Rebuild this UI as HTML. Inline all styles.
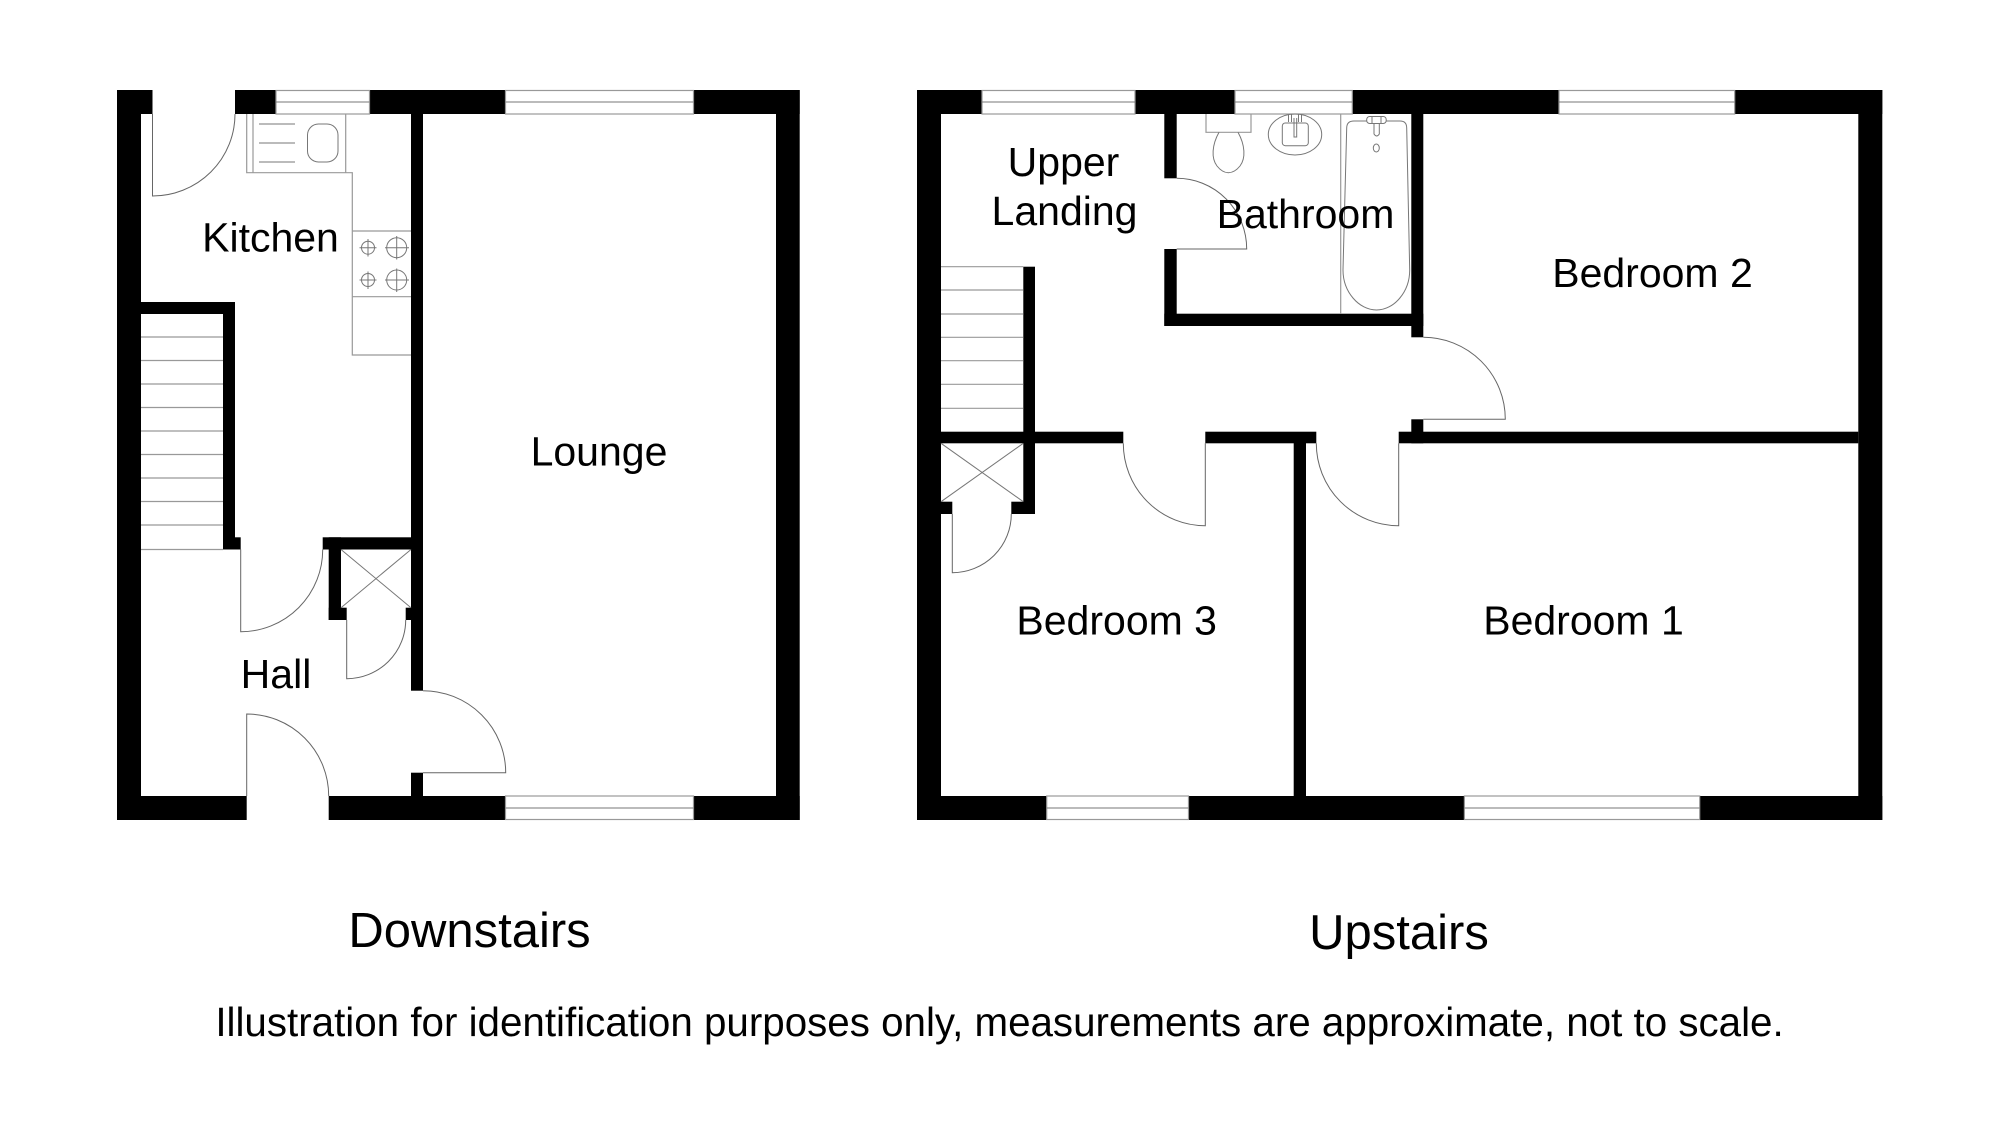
<!DOCTYPE html>
<html><head><meta charset="utf-8"><title>Floor plan</title>
<style>
html,body{margin:0;padding:0;background:#fff}
svg{display:block}
text{font-family:"Liberation Sans",Arial,sans-serif;fill:#000;text-anchor:middle}
.w{fill:#000}
.l{fill:none;stroke:#777;stroke-width:1}
.g{fill:none;stroke:#999;stroke-width:1.2}
.d{fill:none;stroke:#666;stroke-width:1}
.win{fill:#fff;stroke:#999;stroke-width:1.2}
</style></head><body>
<svg width="2000" height="1135" viewBox="0 0 2000 1135" xmlns="http://www.w3.org/2000/svg">
<rect width="2000" height="1135" fill="#fff"/>

<!-- DOWNSTAIRS walls -->
<g class="w">
<rect x="117" y="90" width="24" height="730"/>
<rect x="117" y="90" width="35.5" height="24"/>
<rect x="235" y="90" width="41" height="24"/>
<rect x="369.5" y="90" width="136" height="24"/>
<rect x="693.5" y="90" width="106.2" height="24"/>
<rect x="776" y="90" width="23.7" height="730"/>
<rect x="117" y="796" width="129.7" height="24"/>
<rect x="328.7" y="796" width="176.8" height="24"/>
<rect x="693.5" y="796" width="106.2" height="24"/>
<rect x="411" y="114" width="12" height="576.7"/>
<rect x="411" y="772.7" width="12" height="24"/>
<rect x="141" y="302" width="94" height="12"/>
<rect x="223" y="302" width="12" height="247.5"/>
<rect x="223" y="537.3" width="17.7" height="12.2"/>
<rect x="322.7" y="537.3" width="90" height="12.2"/>
<rect x="328.7" y="537.3" width="12.3" height="82.7"/>
<rect x="328.7" y="607.7" width="18" height="12.3"/>
<rect x="405.7" y="607.7" width="6" height="12.3"/>
</g>
<!-- downstairs windows -->
<g class="win">
<rect x="276" y="90.5" width="93.5" height="23.5"/>
<rect x="505.5" y="90.5" width="188" height="23.5"/>
<rect x="505.5" y="796" width="188" height="23.5"/>
</g>
<g class="l">
<path d="M276 102H369.5M505.5 102H693.5M505.5 808H693.5"/>
<!-- stairs -->
<path class="g" d="M141 337H223M141 360.5H223M141 384H223M141 407.5H223M141 431H223M141 454.5H223M141 478H223M141 501.5H223M141 525H223M141 549.5H223"/>
<!-- kitchen units -->
<path class="g" d="M246.7 114V172.7H352.3V355H411M253 114V172.7M345.7 114V172.7M352.3 231H411M352.3 296.7H411"/>
<path d="M259 124H295M259 143H295M259 162H295"/>
<rect x="307.5" y="124" width="30.5" height="38" rx="11" ry="11"/>
<circle cx="368" cy="247.7" r="6.5"/><circle cx="396.7" cy="247.7" r="10"/>
<circle cx="368" cy="280" r="6.5"/><circle cx="396.7" cy="280" r="10"/>
<path d="M359.5 247.7H376.5M368 239V256.5M385 247.7H409M396.7 236V259.5M359.5 280H376.5M368 271.5V289M385 280H409M396.7 268.5V292"/>
<!-- cupboard -->
<path d="M341 549.5L411 607.7M411 549.5L341 607.7"/>
</g>
<!-- downstairs doors -->
<g class="d">
<path d="M152.5 114V196A82.5 82 0 0 0 235 114"/>
<path d="M240.7 549.5V631.7A82 82 0 0 0 322.7 549.5"/>
<path d="M346.7 620V678.7A59 58.7 0 0 0 405.7 620"/>
<path d="M423 690.7A82.7 82 0 0 1 505.7 772.7H423"/>
<path d="M246.7 796V714A82 82 0 0 1 328.7 796"/>
</g>

<!-- UPSTAIRS walls -->
<g class="w">
<rect x="917" y="90" width="24" height="730"/>
<rect x="917" y="90" width="65" height="24"/>
<rect x="1135" y="90" width="100" height="24"/>
<rect x="1352.3" y="90" width="206.7" height="24"/>
<rect x="1734.7" y="90" width="147.6" height="24"/>
<rect x="1858.3" y="90" width="24" height="730"/>
<rect x="917" y="796" width="129.7" height="24"/>
<rect x="1188.5" y="796" width="276" height="24"/>
<rect x="1699.7" y="796" width="182.6" height="24"/>
<rect x="1164.3" y="114" width="12.4" height="64.3"/>
<rect x="1164.3" y="249" width="12.4" height="77"/>
<rect x="1164.3" y="313.7" width="259" height="12.3"/>
<rect x="1411.3" y="114" width="12" height="223.3"/>
<rect x="1411.3" y="419.3" width="12" height="24"/>
<rect x="1398.7" y="431.7" width="459.6" height="11.6"/>
<rect x="941" y="431.7" width="182.3" height="11.6"/>
<rect x="1205.3" y="431.7" width="111" height="11.6"/>
<rect x="1293.7" y="443" width="12.3" height="353"/>
<rect x="1023.3" y="266.7" width="11.7" height="247.3"/>
<rect x="941" y="501.7" width="11.3" height="12.3"/>
<rect x="1011.3" y="501.7" width="23.7" height="12.3"/>
</g>
<g class="win">
<rect x="982" y="90.5" width="153" height="23.5"/>
<rect x="1235" y="90.5" width="117.3" height="23.5"/>
<rect x="1559" y="90.5" width="175.7" height="23.5"/>
<rect x="1046.7" y="796" width="141.8" height="23.5"/>
<rect x="1464.4" y="796" width="235.3" height="23.5"/>
</g>
<g class="l">
<path d="M982 102H1135M1235 102H1352.3M1559 102H1734.7M1046.7 808H1188.5M1464.4 808H1699.7"/>
<path class="g" d="M941 266.7H1023.3M941 290H1023.3M941 314H1023.3M941 337.3H1023.3M941 360.7H1023.3M941 384.3H1023.3M941 408.3H1023.3"/>
<path d="M941 443.3L1023.3 501.7M1023.3 443.3L941 501.7"/>
<!-- bathroom fittings -->
<path class="g" d="M1206 114V132.3H1251V114M1340.7 114V314"/>
<path d="M1219 132.3C1212 145 1211 158 1217 166C1221 171 1225 172.7 1228.3 172.7C1232 172.7 1236 171 1240 166C1246 158 1245 145 1238 132.3"/>
<ellipse cx="1295" cy="134.5" rx="26.7" ry="20.5"/>
<rect x="1282.3" y="123" width="26" height="22.7" rx="3"/>
<path d="M1288.5 114V122M1291.5 114V122M1298.5 114V122M1301.5 114V122"/>
<path d="M1294 118V137H1296.7V118" />
<path d="M1346.7 128Q1346.7 121 1354 121H1400Q1406.7 121 1406.7 128L1409.7 270C1409.7 292 1394 310 1376.5 310C1359 310 1343 292 1343 270Z"/>
<path d="M1374 122V134Q1376.7 138 1379.3 134V122"/>
<rect x="1366.7" y="116.5" width="19.5" height="7" rx="3" fill="#fff"/>
<path d="M1372 116.5V123.5M1381 116.5V123.5"/>
<ellipse cx="1376.3" cy="148" rx="3" ry="4"/>
</g>
<g class="d">
<path d="M1176.7 178.3A70 70.7 0 0 1 1246.7 249H1176.7"/>
<path d="M1423.3 337.3A82 82 0 0 1 1505.3 419.3H1423.3"/>
<path d="M1398.7 443.3V525.7A82.4 82.4 0 0 1 1316.3 443.3"/>
<path d="M1205.3 443.3V525.7A82 82.4 0 0 1 1123.3 443.3"/>
<path d="M952.3 514V572.7A59 58.7 0 0 0 1011.3 514"/>
</g>

<!-- labels -->
<g font-size="41">
<text x="270.5" y="251.5">Kitchen</text>
<text x="276" y="688">Hall</text>
<text x="599" y="465.5">Lounge</text>
<text x="1063.5" y="176">Upper</text>
<text x="1064.5" y="225">Landing</text>
<text x="1305.5" y="228">Bathroom</text>
<text x="1652.5" y="287">Bedroom 2</text>
<text x="1116.7" y="634.5">Bedroom 3</text>
<text x="1583.5" y="634.5">Bedroom 1</text>
</g>
<text x="999.5" y="1036" font-size="40.35">Illustration for identification purposes only, measurements are approximate, not to scale.</text>
<g font-size="49">
<text x="469.5" y="947">Downstairs</text>
<text x="1399" y="949">Upstairs</text>
</g>
</svg>
</body></html>
